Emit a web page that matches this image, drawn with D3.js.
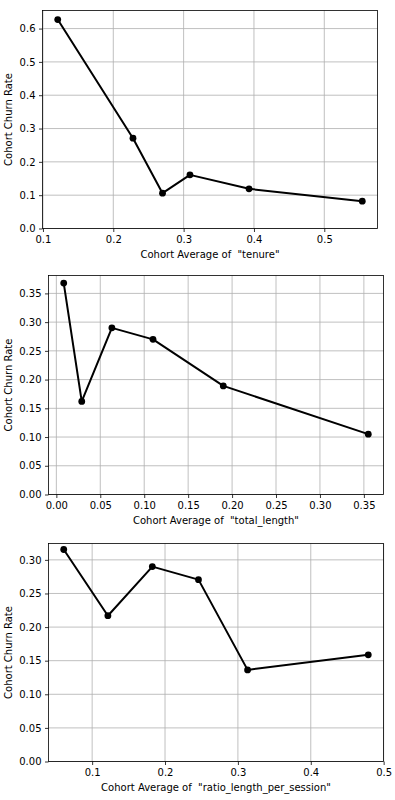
<!DOCTYPE html>
<html>
<head>
<meta charset="utf-8">
<script src="https://cdn.jsdelivr.net/npm/d3@7"></script>
<style>
  body { margin: 0; background: #fff; }
  svg { display: block; }
  text { font-family: "DejaVu Sans", sans-serif; fill: #000; }
  .grid line { stroke: #b0b0b0; stroke-width: 0.8; }
  .tick line { stroke: #000; stroke-width: 0.8; }
</style>
</head>
<body>
<div id="container"></div>
<script>
// cohort averages (x) and churn rates (y)
const tenureX = [0.121, 0.228, 0.270, 0.309, 0.393, 0.554];
const tenureY = [0.627, 0.271, 0.106, 0.161, 0.119, 0.082];

const lengthX = [0.0084, 0.0289, 0.0632, 0.110, 0.190, 0.355];
const lengthY = [0.368, 0.162, 0.290, 0.270, 0.189, 0.105];

const ratioX = [0.061, 0.1216, 0.1826, 0.2459, 0.3133, 0.4789];
const ratioY = [0.3154, 0.2169, 0.290, 0.2706, 0.1363, 0.1587];

// tick labels
const tenureXTicks = [0.1, 0.2, 0.3, 0.4, 0.5];
const tenureYTicks = [0, 0.1, 0.2, 0.3, 0.4, 0.5, 0.6];
const lengthXTicks = [0, 0.05, 0.1, 0.15, 0.2, 0.25, 0.3, 0.35];
const lengthYTicks = [0, 0.05, 0.1, 0.15, 0.2, 0.25, 0.3, 0.35];
const ratioXTicks = [0.1, 0.2, 0.3, 0.4, 0.5];
const ratioYTicks = [0, 0.05, 0.1, 0.15, 0.2, 0.25, 0.3];

const features = ["tenure", "total_length", "ratio_length_per_session"];

const width = 395,
  height = 800;

const svg = d3
  .select("#container")
  .append("svg")
  .attr("width", width)
  .attr("height", height);

const panels = [
  { xs: tenureX, ys: tenureY, xt: tenureXTicks, yt: tenureYTicks, xf: ".1f", yf: ".1f",
    left: 42.5, right: 377.5, top: 10.5, bottom: 228.5, name: features[0] },
  { xs: lengthX, ys: lengthY, xt: lengthXTicks, yt: lengthYTicks, xf: ".2f", yf: ".2f",
    left: 48.5, right: 383.5, top: 275.5, bottom: 494.5, name: features[1] },
  { xs: ratioX, ys: ratioY, xt: ratioXTicks, yt: ratioYTicks, xf: ".1f", yf: ".2f",
    left: 48.5, right: 383.5, top: 543.5, bottom: 761.5, name: features[2] },
];

const drawPanel = (p) => {
  // matplotlib style 5% margins, y starts at zero
  const [x0, x1] = d3.extent(p.xs);
  const [y0, y1] = d3.extent(p.ys);
  const xPad = (x1 - x0) * 0.05;
  const yPad = (y1 - y0) * 0.05;

  const x = d3.scaleLinear().domain([x0 - xPad, x1 + xPad]).range([p.left, p.right]);
  const y = d3.scaleLinear().domain([0, y1 + yPad]).range([p.bottom, p.top]);

  const g = svg.append("g");

  //grid
  const grid = g.append("g").attr("class", "grid");
  grid
    .selectAll(".gx")
    .data(p.xt)
    .enter()
    .append("line")
    .attr("x1", (d) => x(d))
    .attr("x2", (d) => x(d))
    .attr("y1", p.top)
    .attr("y2", p.bottom);
  grid
    .selectAll(".gy")
    .data(p.yt)
    .enter()
    .append("line")
    .attr("x1", p.left)
    .attr("x2", p.right)
    .attr("y1", (d) => y(d))
    .attr("y2", (d) => y(d));

  //axes
  const xAxis = d3.axisBottom(x).tickValues(p.xt).tickFormat(d3.format(p.xf))
    .tickSizeInner(3.5).tickSizeOuter(0).tickPadding(3.5);
  const yAxis = d3.axisLeft(y).tickValues(p.yt).tickFormat(d3.format(p.yf))
    .tickSizeInner(3.5).tickSizeOuter(0).tickPadding(3.5);

  const gx = g.append("g").attr("transform", `translate(0,${p.bottom})`).call(xAxis);
  const gy = g.append("g").attr("transform", `translate(${p.left},0)`).call(yAxis);
  [gx, gy].forEach((a) => {
    a.select(".domain").remove();
    a.selectAll("text").style("font-size", "10px").style("font-family", "DejaVu Sans");
  });

  //frame
  g.append("rect")
    .attr("x", p.left)
    .attr("y", p.top)
    .attr("width", p.right - p.left)
    .attr("height", p.bottom - p.top)
    .attr("fill", "none")
    .attr("stroke", "#000")
    .attr("stroke-width", 0.8);

  //line + markers
  const pts = p.xs.map((v, i) => [v, p.ys[i]]);
  g.append("path")
    .datum(pts)
    .attr("fill", "none")
    .attr("stroke", "#000")
    .attr("stroke-width", 2)
    .attr("stroke-linejoin", "round")
    .attr("d", d3.line().x((d) => x(d[0])).y((d) => y(d[1])));
  g.selectAll(".dot")
    .data(pts)
    .enter()
    .append("circle")
    .attr("cx", (d) => x(d[0]))
    .attr("cy", (d) => y(d[1]))
    .attr("r", 3.4)
    .attr("fill", "#000");

  //labels
  g.append("text")
    .attr("x", (p.left + p.right) / 2)
    .attr("y", p.bottom + 29.5)
    .attr("text-anchor", "middle")
    .style("font-size", "10px")
    .style("white-space", "pre")
    .text('Cohort Average of  "' + p.name + '"');
  g.append("text")
    .attr("transform", `translate(12,${(p.top + p.bottom) / 2}) rotate(-90)`)
    .attr("text-anchor", "middle")
    .style("font-size", "10px")
    .text("Cohort Churn Rate");
};

panels.forEach(drawPanel);
</script>
</body>
</html>
